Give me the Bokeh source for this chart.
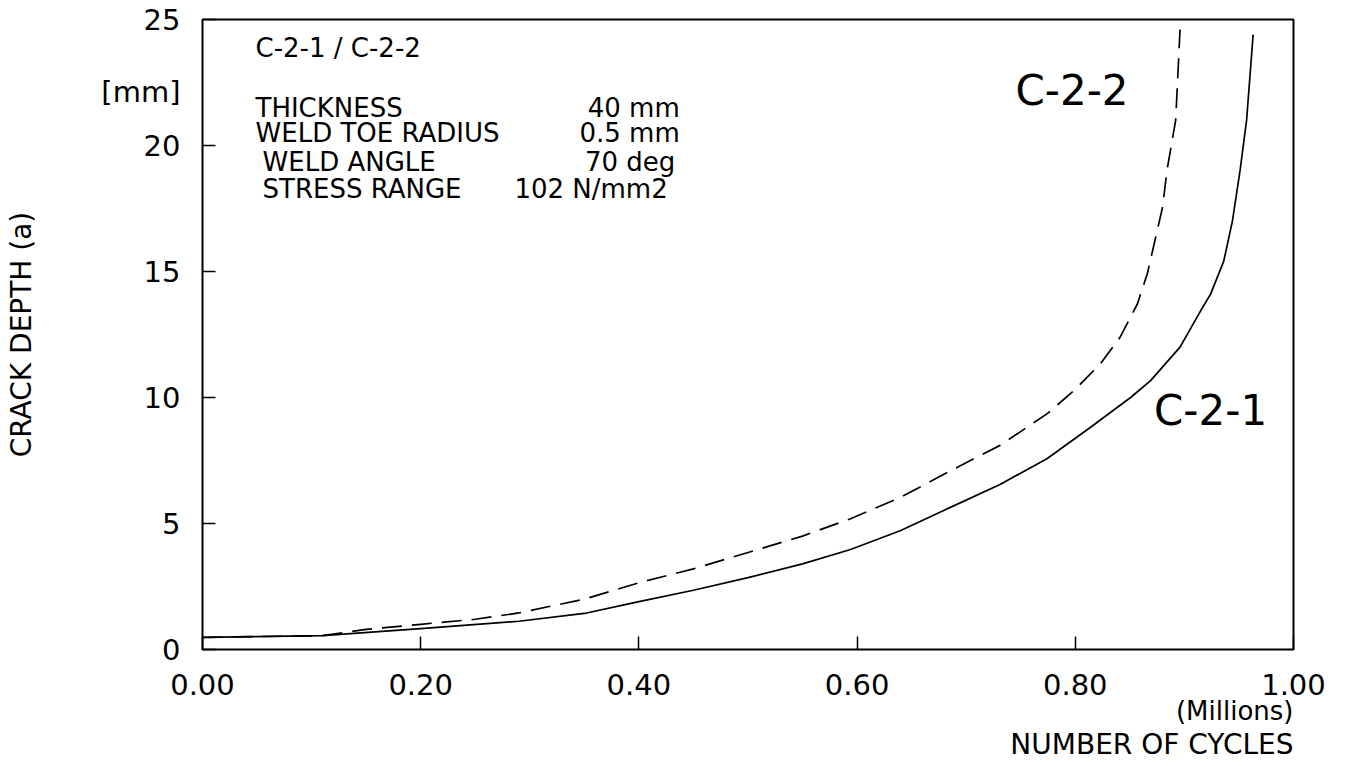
from bokeh.plotting import figure
from bokeh.models import Label, FixedTicker, Range1d, ColumnDataSource, Title
from bokeh.embed import file_html
from bokeh.resources import INLINE

# ---- data ----
cycles_c21 = [0.0, 0.11, 0.20, 0.29, 0.35, 0.40, 0.45, 0.50, 0.55, 0.594, 0.64, 0.686,
              0.731, 0.774, 0.814, 0.851, 0.869, 0.896, 0.915, 0.924, 0.936, 0.944,
              0.951, 0.957, 0.963]
depth_c21 = [0.48, 0.55, 0.83, 1.12, 1.43, 1.9, 2.35, 2.85, 3.4, 3.97, 4.72, 5.65,
             6.55, 7.57, 8.82, 10.01, 10.67, 12.0, 13.45, 14.1, 15.4, 17.0,
             19.0, 21.0, 24.4]

cycles_c22 = [0.0, 0.11, 0.15, 0.20, 0.25, 0.29, 0.35, 0.40, 0.45, 0.50, 0.55, 0.594,
              0.64, 0.686, 0.731, 0.774, 0.799, 0.823, 0.841, 0.857, 0.866, 0.873,
              0.880, 0.884, 0.892, 0.896]
depth_c22 = [0.48, 0.55, 0.8, 1.0, 1.2, 1.45, 2.0, 2.65, 3.2, 3.85, 4.5, 5.19,
             6.04, 7.1, 8.1, 9.35, 10.28, 11.34, 12.39, 13.72, 14.91, 16.23,
             17.55, 19.0, 21.0, 24.6]

x_ticks = [0.0, 0.2, 0.4, 0.6, 0.8, 1.0]
x_tick_labels = ["0.00", "0.20", "0.40", "0.60", "0.80", "1.00"]
y_ticks = [0, 5, 10, 15, 20, 25]
y_unit_pos = 22.14          # where the "[mm]" unit label sits on the y scale
y_unit_text = "[mm]"

info_names = ["THICKNESS", "WELD TOE RADIUS", "WELD ANGLE", "STRESS RANGE"]
info_values = ["40  mm", "0.5  mm", "70  deg", "102  N/mm2"]

FONT = "DejaVu Sans"
W, H = 1338, 767

p = figure(width=W, height=H, output_backend="svg", toolbar_location=None,
           x_range=Range1d(0, 1.0), y_range=Range1d(0, 25),
           min_border_left=202, min_border_right=W - 1293, min_border_top=19,
           min_border_bottom=H - 649)
p.grid.visible = False
p.background_fill_color = "white"
p.border_fill_color = "white"
p.outline_line_color = "black"
p.outline_line_width = 2

# axes: major ticks only carry labels, minor ticks draw the visible tick marks
for ax in (p.xaxis[0], p.yaxis[0]):
    ax.axis_line_color = None
    ax.major_tick_line_color = None
    ax.minor_tick_in = 13
    ax.minor_tick_out = 0
    ax.minor_tick_line_color = "black"
    ax.minor_tick_line_width = 1.5
    ax.major_label_text_font = FONT
    ax.major_label_text_font_size = "29px"
    ax.major_label_text_color = "black"

p.xaxis.ticker = FixedTicker(ticks=x_ticks, minor_ticks=x_ticks)
p.xaxis.major_label_overrides = {t: s for t, s in zip(x_ticks, x_tick_labels)}
p.xaxis.major_label_standoff = 18

p.yaxis.ticker = FixedTicker(ticks=y_ticks + [y_unit_pos], minor_ticks=y_ticks)
p.yaxis.major_label_overrides = {y_unit_pos: y_unit_text}
p.yaxis.major_label_standoff = 16
p.yaxis.axis_label = "CRACK DEPTH (a)"
p.yaxis.axis_label_text_font = FONT
p.yaxis.axis_label_text_font_size = "28px"
p.yaxis.axis_label_text_font_style = "normal"
p.yaxis.axis_label_text_color = "black"
p.yaxis.axis_label_standoff = 60

# titles below the x axis
p.add_layout(Title(text="(Millions)", align="right", text_font=FONT,
                   text_font_size="26px", text_font_style="normal",
                   text_color="black", standoff=-8), "below")
p.add_layout(Title(text="NUMBER OF CYCLES", align="right", text_font=FONT,
                   text_font_size="28px", text_font_style="normal",
                   text_color="black", standoff=8), "below")

# curves
src1 = ColumnDataSource(dict(x=cycles_c21, y=depth_c21))
src2 = ColumnDataSource(dict(x=cycles_c22, y=depth_c22))
p.line("x", "y", source=src1, line_color="black", line_width=1.7)
p.line("x", "y", source=src2, line_color="black", line_width=1.7, line_dash="20 10")

def lbl(text, x, y, size, align="left"):
    p.add_layout(Label(x=x, y=y, text=text, text_font=FONT, text_font_size=size,
                       text_color="black", text_align=align, text_baseline="middle"))

# curve labels
lbl("C-2-2", 0.797, 22.2, "42px", align="center")
lbl("C-2-1", 0.924, 9.48, "42px", align="center")

# header block
lbl("C-2-1 / C-2-2", 0.0486, 23.85, "26px")
name_x = [0.0486, 0.0486, 0.055, 0.055]
val_x = [0.445, 0.445, 0.441, 0.434]
rows_y = [21.5, 20.48, 19.33, 18.29]
for n, v, nx, vx, yy in zip(info_names, info_values, name_x, val_x, rows_y):
    lbl(n, nx, yy, "26px")
    lbl(v, vx, yy, "26px", align="right")

open("out.html", "w").write(file_html(p, INLINE))
